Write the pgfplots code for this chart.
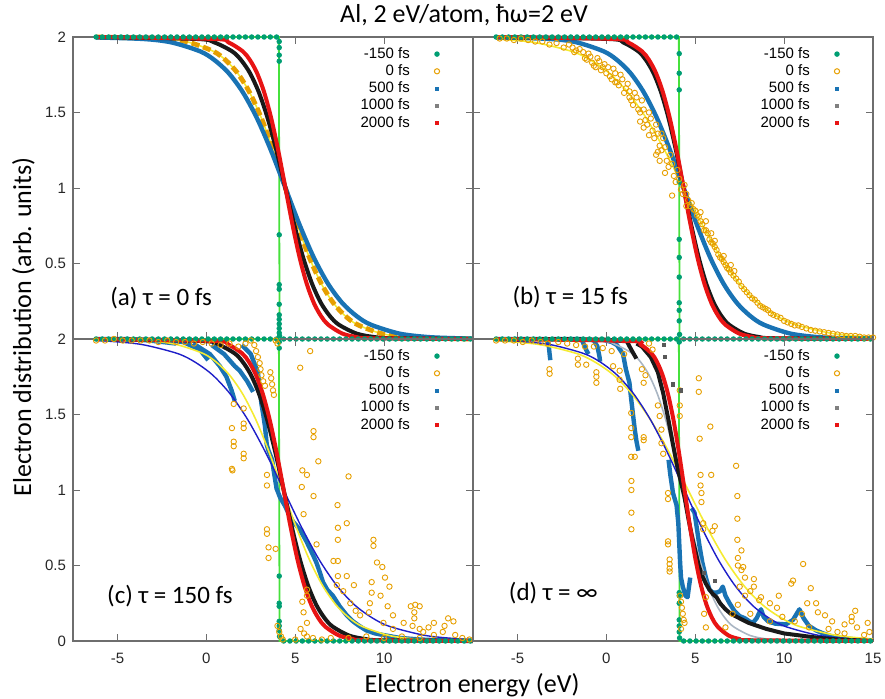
\documentclass[border=0pt]{standalone}
\usepackage{fontspec}
\setmainfont{Carlito}
\newfontfamily\arialf{Liberation Sans}
\usepackage{pgfplots}
\pgfplotsset{compat=1.18}
\usepackage{pgfplotstable}

\definecolor{cgreen}{RGB}{0,158,115}
\definecolor{cgline}{RGB}{70,225,60}
\definecolor{corange}{RGB}{230,159,0}
\definecolor{cyellow}{RGB}{245,235,50}
\definecolor{cblue}{RGB}{25,115,180}
\definecolor{cdblue}{RGB}{30,30,200}
\definecolor{cgray}{RGB}{170,182,195}
\definecolor{cblack}{RGB}{25,25,25}
\definecolor{cred}{RGB}{232,20,20}
\definecolor{cframe}{RGB}{110,110,110}

\pgfplotsset{
 panel/.style={width=200pt,height=151pt,scale only axis,
  xmin=-7.5,xmax=15,ymin=0,ymax=2,
  xtick={-5,0,5,10,15}, ytick={0,0.5,1,1.5,2},
  tick align=inside, major tick length=3.5pt,
  axis line style={cframe,line width=0.6pt},
  every tick/.style={cframe,line width=0.5pt},
  ticklabel style={font=\arialf\fontsize{7.5}{9}\selectfont, text=black!85},
  xticklabel style={yshift=-2.5pt},
  clip=false, unbounded coords=jump,
  legend style={draw=none, fill=none, inner sep=0pt, at={(0.9175,0.9725)}, anchor=north east,
    row sep=0.2pt, column sep=11.5pt, font=\arialf\fontsize{7.5}{9}\selectfont,
    nodes={inner sep=0.8pt, text height=5.5pt, text depth=1.3pt}},
  legend cell align=right, legend plot pos=right},
 gline/.style={forget plot, no marks, color=cgline, line width=0.9pt},
 gdots/.style={forget plot, only marks, mark=*, mark size=1.15pt, color=cgreen},
 odots/.style={forget plot, only marks, mark=o, mark size=1.35pt, color=corange, mark options={line width=0.45pt}},
 bline/.style={forget plot, no marks, color=cblue, line width=2.2pt, line join=round},
 kline/.style={forget plot, no marks, color=cblack, line width=2.0pt, line join=round},
 rline/.style={forget plot, no marks, color=cred, line width=2.0pt, smooth},
 yline/.style={forget plot, no marks, color=cyellow, line width=0.8pt, smooth},
 dbline/.style={forget plot, no marks, color=cdblue, line width=0.7pt, smooth},
 grline/.style={forget plot, no marks, color=cgray, line width=0.8pt, smooth},
}

\newcommand{\panellegend}{%
\addlegendimage{only marks, mark=*, mark size=1.15pt, color=cgreen}\addlegendentry{-150 fs}
\addlegendimage{only marks, mark=o, mark size=1.3pt, color=corange, mark options={line width=0.5pt}}\addlegendentry{0 fs}
\addlegendimage{only marks, mark=square*, mark size=0.75pt, color=cblue}\addlegendentry{500 fs}
\addlegendimage{only marks, mark=square*, mark size=0.75pt, color=gray}\addlegendentry{1000 fs}
\addlegendimage{only marks, mark=square*, mark size=0.6pt, color=cred}\addlegendentry{2000 fs}
}

\pgfplotstableread{
x y
-6.2 2
-5.85 2
-5.5 2
-5.15 2
-4.8 2
-4.45 2
-4.1 2
-3.75 2
-3.4 2
-3.05 2
-2.7 2
-2.35 2
-2.0 2
-1.65 2
-1.3 2
-0.95 2
-0.6 2
-0.25 2
0.1 2
0.45 2
0.8 2
1.15 2
1.5 2
1.85 2
2.2 2
2.55 2
2.9 2
3.25 2
3.6 2
3.95 2
4.35 0
4.7 0
5.05 0
5.4 0
5.75 0
6.1 0
6.45 0
6.8 0
7.15 0
7.5 0
7.85 0
8.2 0
8.55 0
8.9 0
9.25 0
9.6 0
9.95 0
10.3 0
10.65 0
11.0 0
11.35 0
11.7 0
12.05 0
12.4 0
12.75 0
13.1 0
13.45 0
13.8 0
14.15 0
14.5 0
14.85 0
}\greenbase

\begin{document}
\begin{tikzpicture}
\useasboundingbox (-36.5pt,-28.5pt) rectangle (406pt,320.5pt);

% ---------------- (a) ----------------
\begin{axis}[panel, at={(0pt,151pt)}, anchor=south west, xticklabels={}, yticklabels={,0.5,1,1.5,2}]
\panellegend
\addplot[gline] coordinates {(-6.2,2) (4.08,2) (4.12,0) (15,0)};
\addplot[yline] coordinates {(-6.2,2) (-2.3,1.987) (-0.95,1.964) (0.4,1.905) (1.075,1.848) (1.75,1.762) (2.425,1.635) (3.1,1.462) (3.775,1.245) (4.45,1.0) (5.125,0.755) (5.8,0.538) (6.475,0.365) (7.15,0.238) (7.825,0.152) (8.5,0.095) (9.85,0.036) (11.2,0.013) (12.55,0.005) (15,0)};
\addplot[gdots] table {\greenbase};
\addplot[gdots] coordinates {(4.1,1.97) (4.1,1.93) (4.1,1.88) (4.1,1.84) (4.1,0.69) (4.1,0.36) (4.1,0.33) (4.1,0.23) (4.1,0.16) (4.1,0.13) (4.1,0.10) (4.1,0.07) (4.1,0.04) (4.12,0.02)};
\addplot[forget plot, no marks, color=corange, line width=2.4pt, dash pattern=on 4pt off 2pt, smooth] coordinates {(-6.2,2) (-2.3,1.987) (-0.95,1.964) (0.4,1.905) (1.075,1.848) (1.75,1.762) (2.425,1.635) (3.1,1.462) (3.775,1.245) (4.45,1.0) (5.125,0.755) (5.8,0.538) (6.475,0.365) (7.15,0.238) (7.825,0.152) (8.5,0.095) (9.85,0.036) (11.2,0.013) (12.55,0.005) (15,0)};
\addplot[bline, smooth] coordinates {(-6.2,1.997) (-3.55,1.987) (-1.95,1.964) (-0.35,1.905) (0.45,1.848) (1.25,1.762) (2.05,1.635) (2.85,1.462) (3.65,1.245) (4.45,1.0) (5.25,0.755) (6.05,0.538) (6.85,0.365) (7.65,0.238) (8.45,0.152) (9.25,0.095) (10.85,0.036) (12.45,0.013) (14.05,0.005) (15,0.002)};
\addplot[kline, smooth] coordinates {(-6.2,2) (-0.55,1.987) (0.45,1.964) (1.45,1.905) (1.95,1.848) (2.45,1.762) (2.95,1.635) (3.45,1.462) (3.95,1.245) (4.45,1.0) (4.95,0.755) (5.45,0.538) (5.95,0.365) (6.45,0.238) (6.95,0.152) (7.45,0.095) (8.45,0.036) (9.45,0.013) (10.45,0.005) (15,0)};
\addplot[rline] coordinates {(-6.2,2) (0.45,1.987) (1.25,1.964) (2.05,1.905) (2.45,1.848) (2.85,1.762) (3.25,1.635) (3.65,1.462) (4.05,1.245) (4.45,1.0) (4.85,0.755) (5.25,0.538) (5.65,0.365) (6.05,0.238) (6.45,0.152) (6.85,0.095) (7.65,0.036) (8.45,0.013) (9.25,0.005) (15,0)};
\node[anchor=west, inner sep=0pt, font=\fontsize{12.5}{14}\selectfont] at (axis cs:-5.42,0.27) {(a) τ = 0 fs};
\end{axis}

% ---------------- (b) ----------------
\begin{axis}[panel, at={(200pt,151pt)}, anchor=south west, xticklabels={}, yticklabels={}]
\panellegend
\addplot[gline] coordinates {(-6.2,2) (4.08,2) (4.12,0) (15,0)};
\addplot[yline] coordinates {(-6.2,1.987) (-4.05,1.964) (-1.95,1.905) (-0.9,1.848) (0.15,1.762) (1.2,1.635) (2.25,1.462) (3.3,1.245) (4.35,1.0) (5.4,0.755) (6.45,0.538) (7.5,0.365) (8.55,0.238) (9.6,0.152) (10.65,0.095) (12.75,0.036) (14.85,0.013)};
\addplot[gdots] table {\greenbase};
\addplot[gdots] coordinates {(4.1,1.89) (4.1,1.76) (4.1,1.65) (4.1,1.04) (4.1,0.66) (4.1,0.54) (4.1,0.41) (4.1,0.24) (4.1,0.19) (4.1,0.12) (4.12,0.03)};
\addplot[odots] coordinates {(-6.0,1.99) (-5.6,1.99) (-5.2,1.98) (-4.8,1.99) (-4.4,1.98) (-4.0,1.97) (-3.6,1.97) (-3.2,1.95) (-2.8,1.96) (-2.4,1.93) (-2.1,1.95) (-1.8,1.90) (-1.5,1.92) (-1.2,1.86) (-1.0,1.89) (-0.8,1.83) (-0.5,1.86) (-0.3,1.78) (-0.1,1.82) (0.2,1.74) (0.4,1.79) (0.6,1.70) (0.8,1.75) (1.0,1.63) (1.2,1.69) (1.4,1.58) (1.6,1.63) (1.8,1.52) (2.0,1.58) (2.2,1.45) (2.4,1.50) (2.6,1.38) (2.8,1.42) (3.0,1.28) (3.2,1.33) (3.4,1.18) (3.6,1.22) (3.8,1.08) (4.0,1.12) (4.2,0.99) (4.4,1.02) (4.6,0.92) (4.8,0.90) (5.0,0.85) (5.2,0.81) (5.4,0.76) (5.6,0.72) (5.8,0.66) (6.0,0.63) (6.2,0.59) (6.4,0.54) (6.6,0.51) (6.8,0.47) (7.0,0.44) (7.3,0.40) (7.6,0.35) (7.9,0.31) (8.2,0.27) (8.5,0.24) (8.8,0.21) (9.1,0.19) (9.4,0.16) (9.8,0.14) (10.2,0.11) (10.6,0.09) (11.0,0.08) (11.5,0.06) (12.0,0.05) (12.5,0.04) (13.0,0.03) (13.5,0.02) (14.0,0.02) (14.5,0.01) (15.0,0.01) (2.1,1.40) (2.9,1.24) (3.7,0.95) (5.3,0.84) (6.1,0.65) (4.5,0.88) (1.3,1.60) (0.5,1.70) (-0.6,1.80) (3.1,1.36) (5.9,0.70) (7.2,0.45)
(-1.9,1.93) (-1.7,1.91) (-1.3,1.90) (-1.1,1.85) (-0.9,1.87) (-0.7,1.81) (-0.4,1.84) (-0.2,1.80) (0.0,1.76) (0.1,1.80) (0.3,1.72) (0.5,1.76) (0.7,1.68) (0.9,1.72) (1.1,1.66) (1.3,1.64) (1.5,1.55) (1.7,1.60) (1.9,1.50) (2.1,1.52) (2.3,1.42) (2.5,1.46) (2.7,1.33) (2.9,1.36) (3.1,1.25) (3.3,1.27) (3.5,1.14) (3.7,1.16) (3.9,1.04) (4.1,1.06) (4.3,0.96) (4.5,0.96) (4.7,0.88) (4.9,0.86) (5.1,0.82) (5.3,0.78) (5.5,0.72) (5.7,0.70) (5.9,0.64) (6.1,0.61) (6.3,0.56) (6.5,0.53) (6.7,0.49) (6.9,0.46) (7.15,0.42) (7.45,0.38) (7.75,0.33) (8.05,0.29) (8.35,0.26) (8.65,0.22) (8.95,0.2) (9.25,0.17) (9.6,0.15) (10.0,0.12) (10.4,0.1) (10.8,0.09) (11.25,0.07) (11.75,0.055) (12.25,0.045) (12.75,0.035) (13.25,0.025) (13.75,0.02) (14.25,0.015) (14.75,0.01) (2.8,1.22) (3.0,1.18) (3.3,1.10) (2.4,1.35) (1.9,1.44) (6.6,0.55) (7.0,0.49) (5.6,0.78)};
\addplot[bline, smooth] coordinates {(-6.2,1.998) (-3.15,1.987) (-1.65,1.964) (-0.15,1.905) (0.6,1.848) (1.35,1.762) (2.1,1.635) (2.85,1.462) (3.6,1.245) (4.35,1.0) (5.1,0.755) (5.85,0.538) (6.6,0.365) (7.35,0.238) (8.1,0.152) (8.85,0.095) (10.35,0.036) (11.85,0.013) (13.35,0.005) (15,0.002)};
\addplot[kline, smooth] coordinates {(-6.2,2) (0.1,1.987) (0.95,1.964) (1.8,1.905) (2.225,1.848) (2.65,1.762) (3.075,1.635) (3.5,1.462) (3.925,1.245) (4.35,1.0) (4.775,0.755) (5.2,0.538) (5.625,0.365) (6.05,0.238) (6.475,0.152) (6.9,0.095) (7.75,0.036) (8.6,0.013) (9.45,0.005) (15,0)};
\addplot[rline] coordinates {(-6.2,2) (0.45,1.987) (1.23,1.964) (2.01,1.905) (2.4,1.848) (2.79,1.762) (3.18,1.635) (3.57,1.462) (3.96,1.245) (4.35,1.0) (4.74,0.755) (5.13,0.538) (5.52,0.365) (5.91,0.238) (6.3,0.152) (6.69,0.095) (7.47,0.036) (8.25,0.013) (9.03,0.005) (15,0)};
\node[anchor=west, inner sep=0pt, font=\fontsize{12.5}{14}\selectfont] at (axis cs:-5.3,0.28) {(b) τ = 15 fs};
\end{axis}

% ---------------- (c) ----------------
\begin{axis}[panel, at={(0pt,0pt)}, anchor=south west, xticklabels={-5,0,5,10,}, yticklabels={0,0.5,1,1.5,2}]
\panellegend
\addplot[gline] coordinates {(-6.2,2) (4.08,2) (4.12,0) (15,0)};
\addplot[gdots] table {\greenbase};
\addplot[gdots] coordinates {(4.1,1.98) (4.1,1.94) (4.1,0.43) (4.1,0.25) (4.1,0.23) (4.1,0.13) (4.1,0.10) (4.1,0.07) (4.12,0.03)};
\addplot[odots] coordinates {(-6.2,1.99) (-5.7,1.99) (-5.2,2.0) (-4.7,1.99) (-4.2,1.99) (-3.7,1.99) (-3.2,1.99) (-2.7,1.98) (-2.2,1.99) (-1.7,1.98) (-1.2,1.98) (-0.7,1.97) (-0.2,1.98) (0.3,1.97) (0.8,1.96) (1.3,1.97) (1.8,1.95) (2.2,1.97) (2.5,1.99) (2.7,1.96) (2.8,1.92) (2.9,1.88) (3.0,1.84) (3.05,1.8) (3.1,1.76) (3.2,1.72) (3.3,1.69) (3.6,1.78) (3.65,1.74) (3.7,1.70) (3.75,1.66) (3.8,1.63) (3.9,1.99) (4.0,1.97) (5.84,1.92) (5.28,1.81)
(1.54,1.57) (2.1,1.54) (1.44,1.41) (2.1,1.44) (2.1,1.41) (1.54,1.32) (1.54,1.29) (2.1,1.24) (2.1,1.21) (1.44,1.14) (1.47,1.13) (6.03,1.39) (6.03,1.35) (6.3,1.19) (5.4,1.13) (5.66,1.1) (5.37,1.02) (6.03,0.96) (8.0,1.09) (3.41,1.1) (3.41,1.03) (5.47,0.84) (7.38,0.9) (7.9,0.78) (7.4,0.75) (7.4,0.67) (9.4,0.67) (9.4,0.63) (3.41,0.74) (3.41,0.71) (3.5,0.62) (3.5,0.55) (3.9,0.61) (6.2,0.64) (7.15,0.53) (7.4,0.53) (7.9,0.43) (7.4,0.43) (8.3,0.37) (9.6,0.52) (9.9,0.49) (10.05,0.42) (10.3,0.36) (9.3,0.39) (9.3,0.32) (9.2,0.25) (9.15,0.19) (9.8,0.3) (10.2,0.23) (10.5,0.17) (11.1,0.12) (11.5,0.23) (11.75,0.24) (12.0,0.23) (11.7,0.19) (11.7,0.15) (12.0,0.08) (12.5,0.09) (12.8,0.12) (5.66,0.34) (5.66,0.3) (5.4,0.26) (5.47,0.19) (5.66,0.12) (7.34,0.37) (7.7,0.33) (8.1,0.25) (8.4,0.2) (8.65,0.17) (9.96,0.12) (10.5,0.08) (5.3,0.08) (5.5,0.05) (5.66,0.03) (4.0,0.1) (4.1,0.06) (4.2,0.03) (4.3,0.01) (11.6,0.1) (12.2,0.06) (12.8,0.04) (13.4,0.1) (13.6,0.15) (13.9,0.13) (13.3,0.06) (14.0,0.04) (14.4,0.02) (5.0,0.01) (6.0,0.02) (6.5,0.01) (7.0,0.02) (8.0,0.02) (9.0,0.03) (10.0,0.02) (11.0,0.03) (12.0,0.02) (14.8,0.01)};
\addplot[bline] coordinates {(-6.2,2.0) (-4.5,2.0) (-3.2,1.99) (-1.7,1.97) (-1.6,nan)
(-2.0,1.99) (-1.3,1.98) (-0.37,1.93) (0.1,1.86) (0.1,nan)
(-0.74,1.97) (0.2,1.9) (0.76,1.82) (1.13,1.75) (1.42,1.66) (1.6,1.59) (1.6,nan)
(0.3,1.96) (1.0,1.9) (1.6,1.82) (1.88,1.79) (2.3,1.72) (2.63,1.65) (2.63,nan)
(2.0,1.96) (2.5,1.9) (2.9,1.78) (3.0,1.67) (3.1,1.57) (3.2,1.5) (3.3,1.42) (3.4,1.3) (3.5,1.26) (3.7,1.2) (3.8,1.12) (3.95,1.01) (4.15,0.95) (4.4,0.9) (4.69,0.83) (4.88,0.79) (5.25,0.74) (5.63,0.66) (6.0,0.57) (6.19,0.52) (6.4,0.45) (6.56,0.39) (6.8,0.34) (7.12,0.3) (7.5,0.23) (7.9,0.17) (8.25,0.13) (8.6,0.1) (9.0,0.07) (9.5,0.05) (9.93,0.04) (10.9,0.02) (12.0,0.01) (13.0,0.005) (15,0.0)};
\addplot[yline] coordinates {(-6.2,1.998) (-3.2,1.987) (-1.7,1.964) (-0.2,1.905) (0.55,1.848) (1.3,1.762) (2.05,1.635) (2.8,1.462) (3.55,1.245) (4.3,1.0) (5.05,0.755) (5.8,0.538) (6.55,0.365) (7.3,0.238) (8.05,0.152) (8.8,0.095) (10.3,0.036) (11.8,0.013) (13.3,0.005) (15,0.002)};
\addplot[dbline] coordinates {(-6.2,1.99) (-5.65,1.987) (-3.65,1.964) (-1.65,1.905) (-0.65,1.848) (0.35,1.762) (1.35,1.635) (2.35,1.462) (3.35,1.245) (4.35,1.0) (5.35,0.755) (6.35,0.538) (7.35,0.365) (8.35,0.238) (9.35,0.152) (10.35,0.095) (12.35,0.036) (14.35,0.013) (15,0.01)};
\addplot[kline, smooth] coordinates {(-6.2,2) (-0.25,1.987) (0.67,1.964) (1.59,1.905) (2.05,1.848) (2.51,1.762) (2.97,1.635) (3.43,1.462) (3.89,1.245) (4.35,1.0) (4.81,0.755) (5.27,0.538) (5.73,0.365) (6.19,0.238) (6.65,0.152) (7.11,0.095) (8.03,0.036) (8.95,0.013) (9.87,0.005) (15,0)};
\addplot[rline] coordinates {(-6.2,2) (0.45,1.987) (1.23,1.964) (2.01,1.905) (2.4,1.848) (2.79,1.762) (3.18,1.635) (3.57,1.462) (3.96,1.245) (4.35,1.0) (4.74,0.755) (5.13,0.538) (5.52,0.365) (5.91,0.238) (6.3,0.152) (6.69,0.095) (7.47,0.036) (8.25,0.013) (9.03,0.005) (15,0)};
\node[anchor=west, inner sep=0pt, font=\fontsize{12.5}{14}\selectfont] at (axis cs:-5.6,0.30) {(c) τ = 150 fs};
\end{axis}

% ---------------- (d) ----------------
\begin{axis}[panel, at={(200pt,0pt)}, anchor=south west, xticklabels={-5,0,5,10,15}, yticklabels={}]
\panellegend
\addplot[gline] coordinates {(-6.2,2) (4.08,2) (4.12,0) (15,0)};
\addplot[gdots] table {\greenbase};
\addplot[gdots] coordinates {(4.1,1.98) (4.1,0.32) (4.1,0.3) (4.1,0.25) (4.1,0.14) (4.1,0.10) (4.1,0.06) (4.12,0.02)};
\addplot[odots] coordinates {(-6.2,1.99) (-5.7,1.99) (-5.2,1.99) (-4.7,1.98) (-4.2,1.99) (-3.7,1.98) (-3.3,1.97) (-3.2,1.8) (-3.19,1.77) (-2.7,1.98) (-2.2,1.97) (-1.7,1.96) (-1.6,1.87) (-1.6,1.83) (-1.13,1.83) (-1.2,1.95) (-0.7,1.95) (-0.56,1.78) (-0.56,1.75) (-0.56,1.71) (-0.2,1.94) (0.38,1.82) (0.3,1.92) (0.75,1.79) (0.75,1.73) (0.78,1.67) (1.0,1.9) (1.4,1.51) (1.4,1.41) (1.4,1.35) (1.4,1.22) (1.6,1.22) (1.41,1.06) (1.41,1.0) (1.41,0.85) (1.41,0.74) (2.1,1.35) (2.1,1.33) (2.0,1.8) (2.2,1.76) (2.1,1.71) (2.4,1.97) (2.6,1.93) (2.9,1.56) (3.0,1.49) (3.1,1.4) (3.1,1.31) (3.2,1.24) (3.47,0.98) (3.47,0.94) (3.47,0.66) (3.47,0.64) (3.56,0.54) (3.56,0.51) (3.56,0.48) (3.56,0.46) (4.13,1.66) (4.13,1.56) (4.13,1.49) (5.2,1.74) (5.2,1.65) (5.85,1.42) (5.25,1.34) (5.3,1.1) (5.3,1.03) (5.35,0.98) (5.35,0.92) (5.9,1.1) (5.45,0.78) (5.45,0.74) (6.1,0.76) (5.97,0.73) (7.3,1.16) (7.37,0.96) (7.37,0.81) (7.37,0.67) (7.4,0.55) (7.4,0.5) (7.6,0.47) (7.8,0.42) (11.07,0.51) (10.5,0.4) (11.5,0.35) (8.3,0.41) (8.3,0.36) (8.7,0.29)
(4.15,0.3) (4.2,0.26) (4.25,0.22) (4.3,0.18) (4.35,0.14) (4.4,0.12) (4.2,0.08) (7.6,0.6) (7.7,0.49) (7.5,0.36) (7.8,0.3) (8.1,0.33) (8.6,0.27) (9.2,0.25) (9.7,0.3) (9.6,0.22) (10.4,0.38) (11.3,0.25) (11.8,0.25) (11.9,0.19) (12.3,0.17) (12.7,0.13) (13.4,0.11) (13.8,0.13) (14.0,0.2) (13.8,0.16) (14.1,0.09) (5.6,0.29) (5.5,0.18) (5.6,0.09) (6.7,0.09) (7.1,0.18) (7.4,0.24) (8.1,0.18) (9.2,0.13) (9.9,0.16) (10.6,0.13) (11.0,0.18) (11.4,0.09) (12.5,0.08) (13.0,0.06) (13.4,0.05) (14.5,0.04) (14.7,0.12) (14.8,0.06)};
\addplot[bline] coordinates {(-6.2,2.0) (-3.4,2.0) (-3.25,1.97) (-3.19,1.9) (-3.15,1.86) (-3.15,nan)
(-3.1,2.0) (-1.4,2.0) (-1.25,1.96) (-1.1,1.92) (-1.0,1.9) (-1.0,nan)
(-1.0,2.0) (-0.7,1.99) (-0.5,1.95) (-0.38,1.88) (-0.35,1.85) (-0.35,nan)
(-0.35,2.0) (0.3,1.98) (0.6,1.96) (0.94,1.9) (1.1,1.8) (1.3,1.71) (1.4,1.6) (1.5,1.5) (1.6,1.4) (1.7,1.32) (1.8,1.26) (1.8,nan)
(3.5,1.2) (3.6,1.1) (3.75,0.98) (3.95,0.9) (4.05,0.78) (4.1,0.65) (4.15,0.52) (4.2,0.42) (4.3,0.36) (4.45,0.3) (4.57,0.29) (4.65,0.36) (4.72,0.42) (4.72,nan)
(4.8,0.88) (4.96,0.85) (5.1,0.74) (5.24,0.63) (5.4,0.52) (5.6,0.42) (5.8,0.34) (6.0,0.32) (6.2,0.32) (6.4,0.33) (6.55,0.36) (6.7,0.3) (6.93,0.25) (7.2,0.2) (7.5,0.165) (7.8,0.15) (8.05,0.13) (8.24,0.12) (8.45,0.15) (8.7,0.21) (8.85,0.16) (9.1,0.13) (9.5,0.115) (10.1,0.11) (10.5,0.14) (10.86,0.21) (11.1,0.15) (11.4,0.1) (11.8,0.07) (12.2,0.05) (12.7,0.03) (13.3,0.02) (14.0,0.01) (14.6,0.005)};
\addplot[yline] coordinates {(-6.2,1.989) (-3.8,1.964) (-1.7,1.905) (-0.65,1.848) (0.4,1.762) (1.45,1.635) (2.5,1.462) (3.55,1.245) (4.6,1.0) (5.65,0.755) (6.7,0.538) (7.75,0.365) (8.8,0.238) (9.85,0.152) (10.9,0.095) (13.0,0.036) (15,0.014)};
\addplot[dbline] coordinates {(-6.2,1.992) (-5.1,1.987) (-3.2,1.964) (-1.3,1.905) (-0.35,1.848) (0.6,1.762) (1.55,1.635) (2.5,1.462) (3.45,1.245) (4.4,1.0) (5.35,0.755) (6.3,0.538) (7.25,0.365) (8.2,0.238) (9.15,0.152) (10.1,0.095) (12.0,0.036) (13.9,0.013) (15,0.007)};
\addplot[grline] coordinates {(-6.2,2) (-0.45,1.987) (0.5,1.964) (1.45,1.905) (1.925,1.848) (2.4,1.762) (2.875,1.635) (3.35,1.462) (3.825,1.245) (4.3,1.0) (4.775,0.755) (5.25,0.538) (5.725,0.365) (6.2,0.238) (6.675,0.152) (7.15,0.095) (8.1,0.036) (9.05,0.013) (10.0,0.005) (15,0)};
\addplot[kline] coordinates {(-6.2,2) (-3,2) (0,1.995) (1.1,1.985) (1.1,nan)
(1.13,1.99) (1.4,1.93) (1.69,1.87) (1.69,nan)
(1.7,1.97) (2.0,1.95) (2.5,1.88) (2.9,1.78) (3.2,1.64) (3.5,1.46) (3.75,1.3) (4.0,1.15) (4.2,1.05) (4.4,0.95) (4.6,0.82) (4.8,0.7) (5.0,0.6) (5.2,0.5) (5.4,0.43) (5.6,0.38) (5.8,0.34) (6.0,0.31) (6.2,0.29) (6.4,0.25) (6.7,0.21) (7.0,0.18) (7.5,0.15) (8.0,0.12) (8.5,0.1) (9.0,0.08) (10.0,0.05) (11,0.035) (12,0.02) (13,0.01) (15,0.0)};
\addplot[forget plot, only marks, mark=square*, mark size=0.8pt, color=black!65] coordinates {(3.23,1.96) (3.3,1.88) (3.75,1.70) (4.2,1.66) (5.5,0.45) (6.1,0.4)};
\addplot[rline] coordinates {(-6.2,2) (1.3,1.987) (1.92,1.964) (2.54,1.905) (2.85,1.848) (3.16,1.762) (3.47,1.635) (3.78,1.462) (4.09,1.245) (4.4,1.0) (4.71,0.755) (5.02,0.538) (5.33,0.365) (5.64,0.238) (5.95,0.152) (6.26,0.095) (6.88,0.036) (7.5,0.013) (8.12,0.005) (15,0)};
\node[anchor=west, inner sep=0pt, font=\fontsize{12.5}{14}\selectfont] at (axis cs:-5.5,0.32) {(d) τ = ∞};
\end{axis}

\node[font=\fontsize{13}{15}\selectfont] at (195.5pt,313pt) {Al, 2 eV/atom, ħω=2 eV};
\node[font=\fontsize{13}{15}\selectfont] at (199.5pt,-22pt) {Electron energy (eV)};
\node[font=\fontsize{13}{15}\selectfont, rotate=90] at (-24.8pt,157pt) {Electron distribution (arb. units)};
\end{tikzpicture}
\end{document}
